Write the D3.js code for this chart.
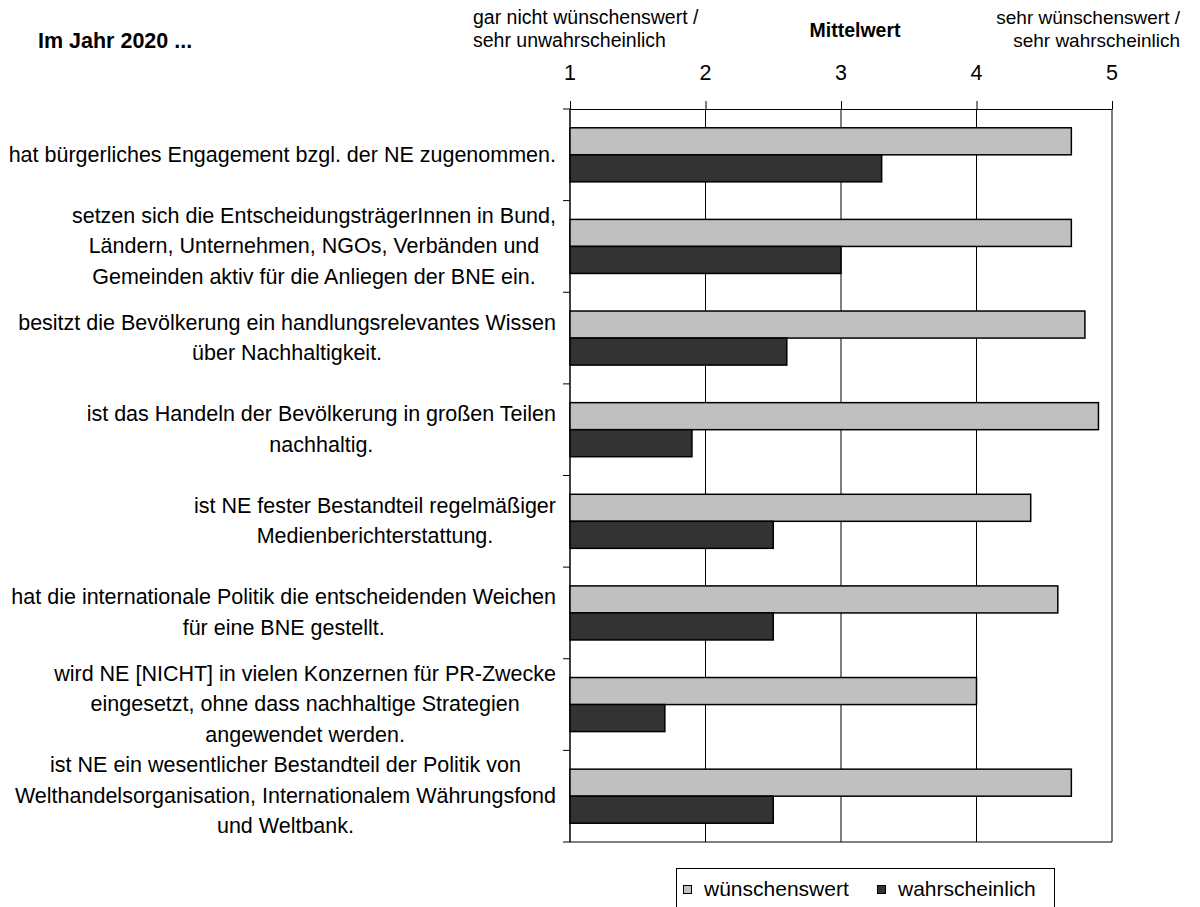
<!DOCTYPE html>
<html>
<head>
<meta charset="utf-8">
<script src="https://cdn.jsdelivr.net/npm/d3@7"></script>
<style>
  html, body { margin: 0; padding: 0; background: #fff; }
  svg { display: block; font-family: "Liberation Sans", Arial, sans-serif; }
</style>
</head>
<body>
<svg id="chart" width="1200" height="907"></svg>
<script>
// Survey statements (each entry = lines of the label)
const categories = [
  ["hat bürgerliches Engagement bzgl. der NE zugenommen."],
  ["setzen sich die EntscheidungsträgerInnen in Bund,", "Ländern, Unternehmen, NGOs, Verbänden und", "Gemeinden aktiv für die Anliegen der BNE ein."],
  ["besitzt die Bevölkerung ein handlungsrelevantes Wissen", "über Nachhaltigkeit."],
  ["ist das Handeln der Bevölkerung in großen Teilen", "nachhaltig."],
  ["ist NE fester Bestandteil regelmäßiger", "Medienberichterstattung."],
  ["hat die internationale Politik die entscheidenden Weichen", "für eine BNE gestellt."],
  ["wird NE [NICHT] in vielen Konzernen für PR-Zwecke", "eingesetzt, ohne dass nachhaltige Strategien", "angewendet werden."],
  ["ist NE ein wesentlicher Bestandteil der Politik von", "Welthandelsorganisation, Internationalem Währungsfond", "und Weltbank."]
];

const seriesNames = ["wünschenswert", "wahrscheinlich"];
const wuenschenswert = [4.7, 4.7, 4.8, 4.9, 4.4, 4.6, 4.0, 4.7];
const wahrscheinlich = [3.3, 3.0, 2.6, 1.9, 2.5, 2.5, 1.7, 2.5];
const tickValues = [1, 2, 3, 4, 5];

const colors = ["#c0c0c0", "#333333"];

const svg = d3.select("#chart");

const plot = { left: 570, right: 1112, top: 109, bottom: 842 };

const x = d3.scaleLinear().domain([1, 5]).range([plot.left, plot.right]);
const y = d3.scaleBand().domain(d3.range(categories.length)).range([plot.top, plot.bottom]);
const barH = y.bandwidth() * 0.295;

// vertical grid lines
svg.append("g")
  .selectAll("line")
  .data(tickValues)
  .join("line")
  .attr("x1", d => x(d)).attr("x2", d => x(d))
  .attr("y1", plot.top).attr("y2", plot.bottom)
  .attr("stroke", "#000").attr("stroke-width", 1);

// top axis with outward ticks
const xAxis = d3.axisTop(x).tickValues(tickValues).tickSize(8).tickSizeOuter(0).tickFormat("");
svg.append("g")
  .attr("transform", `translate(0,${plot.top})`)
  .call(xAxis)
  .call(g => g.selectAll("path, line").attr("stroke", "#000"));

// tick labels above
svg.append("g")
  .selectAll("text")
  .data(tickValues)
  .join("text")
  .attr("x", d => x(d)).attr("y", 80)
  .attr("text-anchor", "middle")
  .attr("font-size", 21.5)
  .attr("fill", "#000")
  .text(d => d);

// left axis with category ticks at band boundaries
const bounds = d3.range(categories.length + 1).map(i => plot.top + i * y.step());
svg.append("line")
  .attr("x1", plot.left).attr("x2", plot.left)
  .attr("y1", plot.top).attr("y2", plot.bottom)
  .attr("stroke", "#000");
svg.append("g")
  .selectAll("line")
  .data(bounds)
  .join("line")
  .attr("x1", plot.left - 7).attr("x2", plot.left)
  .attr("y1", d => d).attr("y2", d => d)
  .attr("stroke", "#000");

// bottom frame line
svg.append("line")
  .attr("x1", plot.left).attr("x2", plot.right)
  .attr("y1", plot.bottom).attr("y2", plot.bottom)
  .attr("stroke", "#000");

// bars
const series = [wuenschenswert, wahrscheinlich];
series.forEach((vals, s) => {
  svg.append("g")
    .selectAll("rect")
    .data(vals)
    .join("rect")
    .attr("x", x(1))
    .attr("y", (d, i) => y(i) + y.bandwidth() / 2 - barH + s * barH)
    .attr("width", d => x(d) - x(1))
    .attr("height", barH)
    .attr("fill", colors[s])
    .attr("stroke", "#000")
    .attr("stroke-width", 1.5);
});

// category labels: centred lines, right-aligned block
const lineH = 30.5;
categories.forEach((lines, i) => {
  const g = svg.append("g");
  const cy = y(i) + y.bandwidth() / 2 - 1;
  const texts = g.selectAll("text")
    .data(lines)
    .join("text")
    .attr("y", (d, k) => cy + (k - (lines.length - 1) / 2) * lineH)
    .attr("dy", "0.36em")
    .attr("text-anchor", "middle")
    .attr("font-size", 21.5)
    .attr("fill", "#000")
    .text(d => d);
  let maxW = 0;
  texts.each(function () { maxW = Math.max(maxW, this.getComputedTextLength()); });
  texts.attr("x", 556 - maxW / 2);
});

// headings
svg.append("text")
  .attr("x", 38).attr("y", 48)
  .attr("font-size", 21.5).attr("font-weight", "bold")
  .text("Im Jahr 2020 ...");

svg.append("text")
  .attr("x", 855).attr("y", 37)
  .attr("text-anchor", "middle")
  .attr("font-size", 19.5).attr("font-weight", "bold")
  .text("Mittelwert");

svg.append("g").selectAll("text")
  .data(["gar nicht wünschenswert /", "sehr unwahrscheinlich"])
  .join("text")
  .attr("x", 473).attr("y", (d, k) => 24 + k * 23)
  .attr("font-size", 19.5)
  .text(d => d);

svg.append("g").selectAll("text")
  .data(["sehr wünschenswert /", "sehr wahrscheinlich"])
  .join("text")
  .attr("x", 1180).attr("y", (d, k) => 24 + k * 23)
  .attr("text-anchor", "end")
  .attr("font-size", 19)
  .text(d => d);

// legend
const legend = svg.append("g");
legend.append("rect")
  .attr("x", 676.5).attr("y", 868.5)
  .attr("width", 378).attr("height", 50)
  .attr("fill", "#fff").attr("stroke", "#000");
const legendX = [683, 877];
seriesNames.forEach((name, s) => {
  legend.append("rect")
    .attr("x", legendX[s] + 0.5).attr("y", 885.5)
    .attr("width", 8).attr("height", 8)
    .attr("fill", colors[s]).attr("stroke", "#000");
  legend.append("text")
    .attr("x", legendX[s] + 21).attr("y", 896)
    .attr("font-size", 21)
    .text(name);
});
</script>
</body>
</html>
